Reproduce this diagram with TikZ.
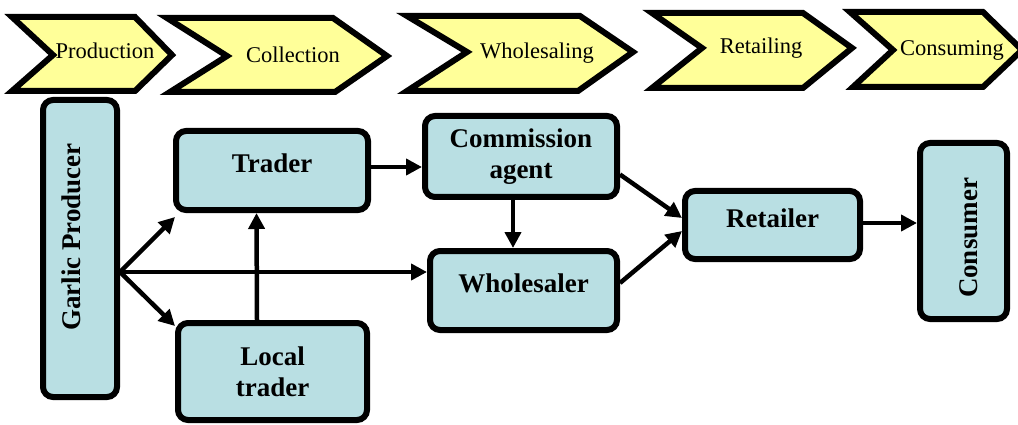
\documentclass[tikz,border=0pt]{standalone}
\usepackage{fontspec}
\setmainfont{Liberation Serif}
\usetikzlibrary{arrows.meta}
\definecolor{boxfill}{HTML}{B9DFE3}
\definecolor{chevfill}{HTML}{FFFF99}
\begin{document}
\begin{tikzpicture}[x=1pt,y=-1pt,
  chev/.style={draw=black, line width=6pt, fill=chevfill, line join=miter},
  chevtext/.style={font=\fontsize{22.5}{26}\selectfont, inner sep=0pt},
  box/.style={draw=black, line width=6pt, fill=boxfill, rounded corners=10pt,
    font=\fontsize{27}{31}\selectfont\bfseries, inner sep=0pt},
  arr/.style={line width=4.5pt, -{Triangle[length=16pt,width=16pt]}}
]
\useasboundingbox (0,0) rectangle (1018,425);

% stage chevrons
\draw[chev] (12,17) -- (135,17) -- (172,55) -- (135,91) -- (12,91) -- (53,55) -- cycle;
\node[chevtext] (sprod) at (105,51) {Production};
\draw[chev] (167,18) -- (333,18) -- (387,56) -- (335,92) -- (170,92) -- (227,56) -- cycle;
\node[chevtext] (scoll) at (293,55) {Collection};
\draw[chev] (407,16) -- (580,16) -- (633,52) -- (578,91) -- (407,91) -- (467,52) -- cycle;
\node[chevtext] (swhole) at (537,53) {Wholesaling};
\draw[chev] (652,13) -- (803,13) -- (852,48) -- (803,88) -- (652,88) -- (702,48) -- cycle;
\node[chevtext] (sretail) at (761,48) {Retailing};
\draw[chev] (850,12) -- (983,12) -- (1022,50) -- (983,87) -- (853,87) -- (893,50) -- cycle;
\node[chevtext] (scons) at (952,50) {Consuming};

% boxes
\node[box, rotate=90, minimum width=297pt, minimum height=74pt,
      text height=18pt, text depth=18pt] (garlic) at (80,248.5)
      {\hspace*{23pt}Garlic Producer};
\node[box, minimum width=192pt, minimum height=79pt,
      text height=18pt, text depth=13pt] (trader) at (272,170.5) {Trader};
\node[box, align=center, minimum width=189pt, minimum height=97pt] (local) at (272.5,371.5)
      {Local\\trader};
\node[box, align=center, minimum width=192pt, minimum height=81pt] (comm) at (521,156.5)
      {Commission\\agent};
\node[box, minimum width=187pt, minimum height=79pt,
      text height=18pt, text depth=15pt] (whole) at (523.5,290.5) {Wholesaler};
\node[box, minimum width=175pt, minimum height=68pt,
      text height=18pt, text depth=14pt] (retail) at (772.5,225) {Retailer};
\node[box, rotate=90, minimum width=176pt, minimum height=87pt,
      text height=27pt, text depth=0pt] (cons) at (963.5,231)
      {Consumer\hspace*{14pt}};

% connector end points on box borders
\coordinate (gout) at ([yshift=-23.5pt]garlic.south);
\coordinate (tout) at ([yshift=3.5pt]trader.east);
\coordinate (rout) at ([yshift=2pt]retail.east);

% connectors
\draw[arr] (gout) -- ([xshift=2pt,yshift=-4pt]trader.south west);
\draw[arr] (gout) -- ([xshift=0pt,yshift=-6pt]local.north west);
\draw[arr] (gout) -- (whole.west |- gout);
\draw[arr] ([xshift=-15.5pt]local.north) -- ([xshift=-15.5pt]trader.south);
\draw[arr] (tout) -- (comm.west |- tout);
\draw[arr] ([xshift=-8pt]comm.south) -- ([xshift=-10.5pt]whole.north);
\draw[arr] ([yshift=-18pt]comm.east) -- ([yshift=7pt]retail.west);
\draw[arr] ([yshift=7.5pt]whole.east) -- ([yshift=-6pt]retail.west);
\draw[arr] (rout) -- (rout -| cons.north);
\end{tikzpicture}
\end{document}
